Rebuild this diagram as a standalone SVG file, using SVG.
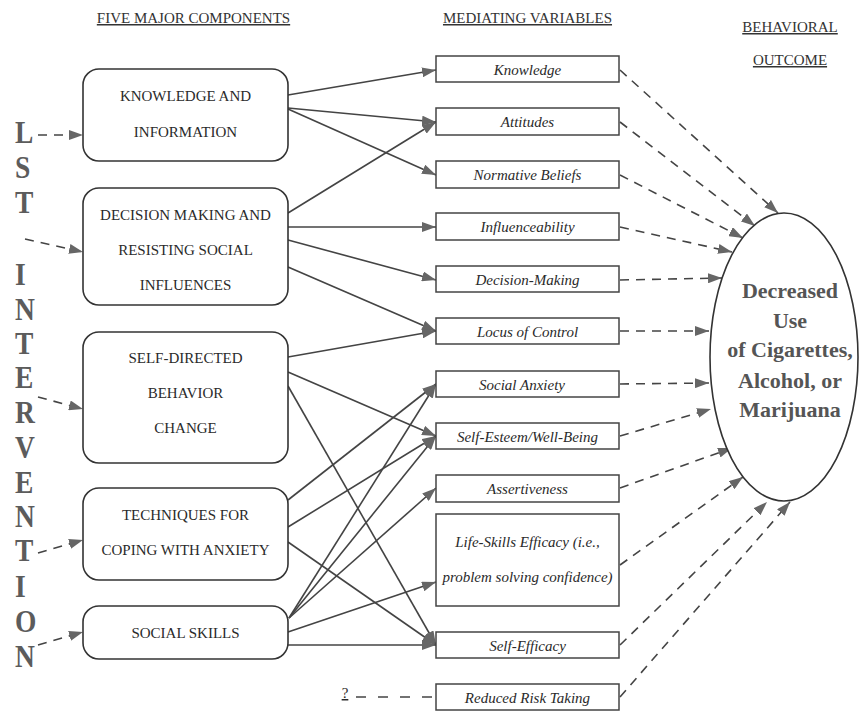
<svg xmlns="http://www.w3.org/2000/svg" width="859" height="711" viewBox="0 0 859 711" font-family="'Liberation Serif', 'Times New Roman', 'DejaVu Serif', serif">
<defs>
<marker id="ah" markerUnits="userSpaceOnUse" markerWidth="15" markerHeight="10" refX="14" refY="5" orient="auto">
<path d="M0,0 L14,5 L0,10 Z" fill="#666"/>
</marker>
<style>
text{font-family:'Liberation Serif','Times New Roman','DejaVu Serif',serif}
.hdr{font-size:15px;fill:#333;text-anchor:middle;text-decoration:underline}
.cap{font-size:15px;fill:#2a2a2a;text-anchor:middle}
.var{font-size:15px;font-style:italic;fill:#2a2a2a;text-anchor:middle}
.big{font-size:32px;font-weight:bold;fill:#5c5c5c}
.out{font-size:22px;font-weight:bold;fill:#555;text-anchor:middle}
.rbox{fill:#fff;stroke:#333;stroke-width:1.6}
.sbox{fill:#fff;stroke:#444;stroke-width:1.5}
.solid{stroke:#444;stroke-width:1.6;fill:none;marker-end:url(#ah)}
.dash{stroke:#444;stroke-width:1.6;fill:none;stroke-dasharray:9 7;marker-end:url(#ah)}
</style>
</defs>
<rect width="859" height="711" fill="#fff"/>

<g id="headers">
<text class="hdr" x="193.5" y="23">FIVE MAJOR COMPONENTS</text>
<text class="hdr" x="527.5" y="23">MEDIATING VARIABLES</text>
<text class="hdr" x="790" y="32">BEHAVIORAL</text>
<text class="hdr" x="790" y="65">OUTCOME</text>
</g>

<g id="lst" transform="translate(15,0) scale(0.86,1)">
<text class="big" x="0" y="143">L</text>
<text class="big" x="0" y="178">S</text>
<text class="big" x="0" y="213">T</text>
<text class="big" x="0" y="285">I</text>
<text class="big" x="0" y="320">N</text>
<text class="big" x="0" y="354">T</text>
<text class="big" x="0" y="388">E</text>
<text class="big" x="0" y="423">R</text>
<text class="big" x="0" y="458">V</text>
<text class="big" x="0" y="493">E</text>
<text class="big" x="0" y="527">N</text>
<text class="big" x="0" y="561">T</text>
<text class="big" x="0" y="597">I</text>
<text class="big" x="0" y="632">O</text>
<text class="big" x="0" y="667">N</text>
</g>

<g id="connectors">
<line class="dash" x1="38" y1="135" x2="83" y2="135"/>
<line class="dash" x1="25" y1="239" x2="83" y2="252"/>
<line class="dash" x1="38" y1="397" x2="83" y2="409"/>
<line class="dash" x1="38" y1="553" x2="83" y2="540"/>
<line class="dash" x1="38" y1="645" x2="83" y2="632"/>
<line class="solid" x1="288" y1="95" x2="436" y2="70"/>
<line class="solid" x1="288" y1="108" x2="436" y2="122"/>
<line class="solid" x1="288" y1="109" x2="436" y2="175"/>
<line class="solid" x1="288" y1="213" x2="436" y2="122"/>
<line class="solid" x1="288" y1="227" x2="436" y2="227"/>
<line class="solid" x1="288" y1="240" x2="436" y2="280"/>
<line class="solid" x1="288" y1="267" x2="436" y2="331"/>
<line class="solid" x1="288" y1="357" x2="436" y2="331"/>
<line class="solid" x1="288" y1="372" x2="436" y2="436"/>
<line class="solid" x1="288" y1="386" x2="436" y2="645"/>
<line class="solid" x1="288" y1="500" x2="436" y2="384"/>
<line class="solid" x1="288" y1="527" x2="436" y2="436"/>
<line class="solid" x1="288" y1="542" x2="436" y2="645"/>
<line class="solid" x1="289" y1="618" x2="436" y2="384"/>
<line class="solid" x1="289" y1="618" x2="436" y2="436"/>
<line class="solid" x1="289" y1="618" x2="436" y2="488"/>
<line class="solid" x1="288" y1="632" x2="436" y2="582"/>
<line class="solid" x1="288" y1="645" x2="436" y2="645"/>
<line class="dash" x1="620" y1="70" x2="778" y2="213"/>
<line class="dash" x1="620" y1="122" x2="755" y2="226"/>
<line class="dash" x1="620" y1="175" x2="743" y2="238"/>
<line class="dash" x1="620" y1="227" x2="732" y2="252"/>
<line class="dash" x1="620" y1="280" x2="722" y2="278"/>
<line class="dash" x1="620" y1="331" x2="709" y2="331"/>
<line class="dash" x1="620" y1="384" x2="709" y2="383"/>
<line class="dash" x1="620" y1="436" x2="711" y2="409"/>
<line class="dash" x1="620" y1="488" x2="732" y2="448"/>
<line class="dash" x1="620" y1="565" x2="743" y2="477"/>
<line class="dash" x1="620" y1="645" x2="767" y2="502"/>
<line class="dash" x1="620" y1="697" x2="790" y2="502"/>
<line x1="356" y1="697" x2="436" y2="697" stroke="#444" stroke-width="1.6" stroke-dasharray="10 12"/>
</g>

<g id="q">
<text class="cap" x="345" y="698" text-decoration="underline">?</text>
</g>

<g id="comp-knowledge">
<rect class="rbox" x="83" y="69" width="205" height="92" rx="16"/>
<text class="cap" x="185.5" y="101">KNOWLEDGE AND</text>
<text class="cap" x="185.5" y="137">INFORMATION</text>
</g>
<g id="comp-decision">
<rect class="rbox" x="83" y="188" width="205" height="117" rx="16"/>
<text class="cap" x="185.5" y="220">DECISION MAKING AND</text>
<text class="cap" x="185.5" y="255">RESISTING SOCIAL</text>
<text class="cap" x="185.5" y="290">INFLUENCES</text>
</g>
<g id="comp-self">
<rect class="rbox" x="83" y="332" width="205" height="131" rx="16"/>
<text class="cap" x="185.5" y="363">SELF-DIRECTED</text>
<text class="cap" x="185.5" y="398">BEHAVIOR</text>
<text class="cap" x="185.5" y="433">CHANGE</text>
</g>
<g id="comp-coping">
<rect class="rbox" x="83" y="488" width="205" height="92" rx="16"/>
<text class="cap" x="185.5" y="520">TECHNIQUES FOR</text>
<text class="cap" x="185.5" y="555">COPING WITH ANXIETY</text>
</g>
<g id="comp-social">
<rect class="rbox" x="83" y="606" width="205" height="53" rx="16"/>
<text class="cap" x="185.5" y="638">SOCIAL SKILLS</text>
</g>

<g id="var-knowledge"><rect class="sbox" x="436" y="56" width="183" height="26"/><text class="var" x="527.5" y="75">Knowledge</text></g>
<g id="var-attitudes"><rect class="sbox" x="436" y="108" width="183" height="27"/><text class="var" x="527.5" y="127">Attitudes</text></g>
<g id="var-normative"><rect class="sbox" x="436" y="161" width="183" height="27"/><text class="var" x="527.5" y="180">Normative Beliefs</text></g>
<g id="var-influence"><rect class="sbox" x="436" y="213" width="183" height="27"/><text class="var" x="527.5" y="232">Influenceability</text></g>
<g id="var-decision"><rect class="sbox" x="436" y="266" width="183" height="26"/><text class="var" x="527.5" y="285">Decision-Making</text></g>
<g id="var-locus"><rect class="sbox" x="436" y="318" width="183" height="26"/><text class="var" x="527.5" y="337">Locus of Control</text></g>
<g id="var-anxiety"><rect class="sbox" x="436" y="371" width="183" height="26"/><text class="var" x="522" y="390">Social Anxiety</text></g>
<g id="var-esteem"><rect class="sbox" x="436" y="423" width="183" height="26"/><text class="var" x="527.5" y="442">Self-Esteem/Well-Being</text></g>
<g id="var-assert"><rect class="sbox" x="436" y="475" width="183" height="27"/><text class="var" x="527.5" y="494">Assertiveness</text></g>
<g id="var-lifeskills"><rect class="sbox" x="436" y="514" width="183" height="92"/><text class="var" x="527.5" y="547">Life-Skills Efficacy (i.e.,</text><text class="var" x="527.5" y="582">problem solving confidence)</text></g>
<g id="var-efficacy"><rect class="sbox" x="436" y="632" width="183" height="26"/><text class="var" x="527.5" y="651">Self-Efficacy</text></g>
<g id="var-risk"><rect class="sbox" x="436" y="684" width="183" height="26"/><text class="var" x="527.5" y="703">Reduced Risk Taking</text></g>

<g id="outcome">
<ellipse cx="784" cy="357" rx="74" ry="144" fill="#fff" stroke="#333" stroke-width="1.6"/>
<text class="out" x="790" y="298">Decreased</text>
<text class="out" x="790" y="328">Use</text>
<text class="out" x="790" y="357">of Cigarettes,</text>
<text class="out" x="790" y="388">Alcohol, or</text>
<text class="out" x="790" y="417">Marijuana</text>
</g>
</svg>
